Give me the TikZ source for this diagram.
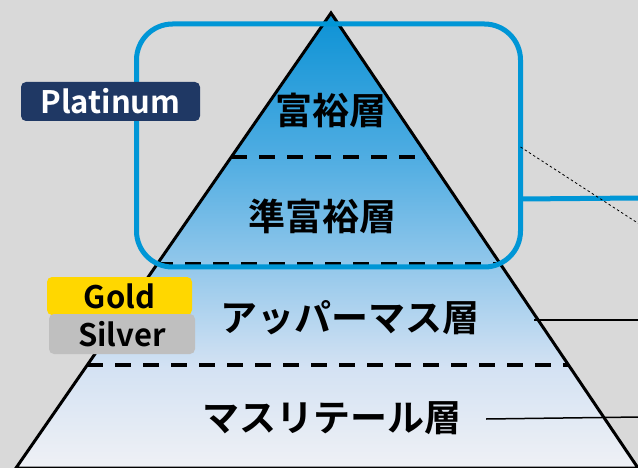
\documentclass[tikz,border=0pt]{standalone}
\usepackage{fontspec}
\setmainfont{Noto Sans CJK JP}[BoldFont={Noto Sans CJK JP Bold}]
\usetikzlibrary{
  calc
}
\definecolor{bggray}{RGB}{217,217,217}
\definecolor{boxblue}{RGB}{0,150,214}
\definecolor{platnavy}{RGB}{31,56,100}
\definecolor{goldyellow}{RGB}{255,215,0}
\definecolor{silvergray}{RGB}{191,191,191}
\definecolor{pyrtop}{RGB}{12,146,213}
\definecolor{pyra}{RGB}{80,173,226}
\definecolor{pyrb}{RGB}{148,200,235}
\definecolor{pyrc}{RGB}{212,226,243}
\definecolor{pyrbot}{RGB}{239,241,245}
\pgfdeclareverticalshading{pyramidfill}{100bp}{color(0bp)=(pyrbot); color(25bp)=(pyrbot); color(36bp)=(pyrc); color(47bp)=(pyrb); color(59bp)=(pyra); color(75bp)=(pyrtop); color(100bp)=(pyrtop)}

\begin{document}
\begin{tikzpicture}[x=1pt,y=-1pt,
	tier/.style={font=\fontsize{37}{42}\selectfont\bfseries, inner sep=0pt},
	tierline/.style={line width=3.5pt, dash pattern=on 16pt off 12pt},
	badge/.style={rounded corners=5pt, minimum width=#1pt, minimum height=39pt, inner sep=0pt, font=\fontsize{31}{35}\selectfont\bfseries},
]
	\fill[bggray] (0,0) rectangle (638,468);
	\useasboundingbox (0,0) rectangle (638,468);
	\coordinate (apex) at (331,13);
	\coordinate (baseL) at (16,468);
	\coordinate (baseR) at (638,468);
	\shade[shading=pyramidfill] (apex) -- (baseL) -- (baseR) -- cycle;
	\foreach \f in {0.3165,0.5516,0.7736}
		\draw[tierline] ($(apex)!\f!(baseL)$) -- ($(apex)!\f!(baseR)$);
	\draw[line width=3pt] (apex) -- (baseL) -- (baseR) -- cycle;
	% upper two tiers
	\node[draw=boxblue, line width=5pt, rounded corners=36pt, minimum width=384pt, minimum height=243pt, inner sep=0pt, outer sep=0pt] (topbox) at (328.5,145.5) {};
	\coordinate (blueend) at (640,198);
	\coordinate (dotend) at (650,231);
	\draw[boxblue, line width=5pt] ([yshift=-53.5pt]topbox.east) -- (blueend);
	\draw[line width=0.8pt, dash pattern=on 2.5pt off 2.5pt] ([yshift=-1.5pt]topbox.east) -- (dotend);
	\node[tier] (rich) at (331,110) {富裕層};
	\node[tier] (semirich) at (322,216) {準富裕層};
	\node[tier] (uppermass) at (350,318) {アッパーマス層};
	\node[tier] (massretail) at (332,418) {マスリテール層};
	\coordinate (upperend) at (640,320);
	\coordinate (massend) at (640,417);
	\draw[line width=2pt] ([xshift=54.5pt,yshift=-2pt]uppermass.east) -- (upperend);
	\draw[line width=1.5pt] ([xshift=24.5pt,yshift=-1pt]massretail.east) -- (massend);
	\node[badge=179, fill=platnavy, text=white] (platinum) at (110.5,101.5) {Platinum};
	\node[badge=145, fill=goldyellow, minimum height=38pt] (gold) at (119.5,296) {Gold};
	\node[badge=146, fill=silvergray, minimum height=40pt] (silver) at (122,334) {Silver};
\end{tikzpicture}
\end{document}
